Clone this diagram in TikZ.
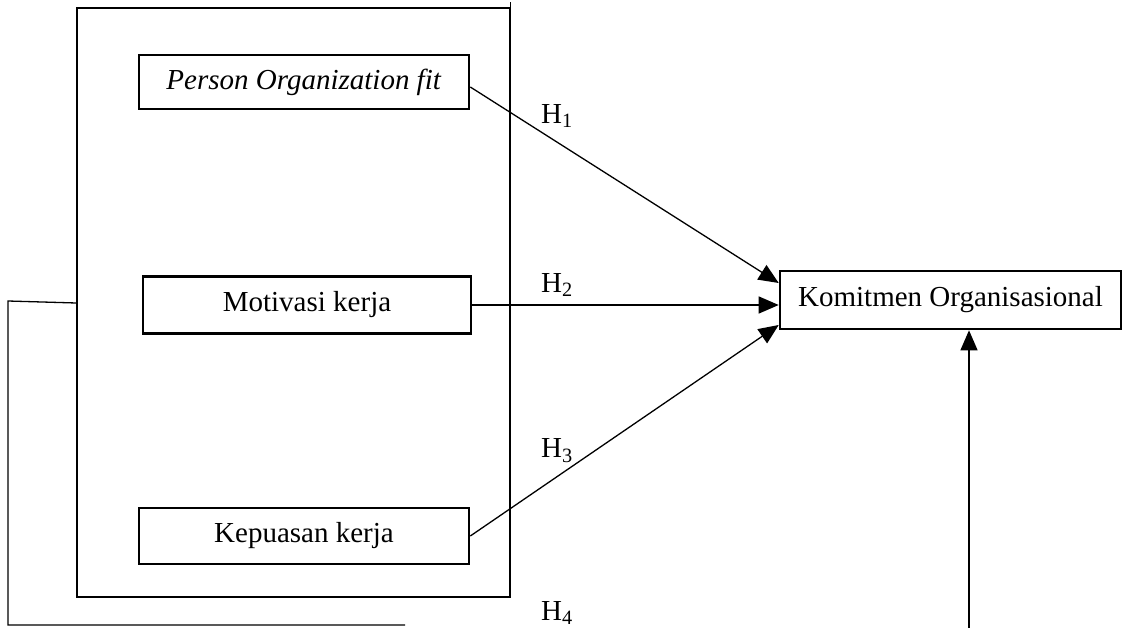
\documentclass[tikz,border=0pt]{standalone}
\usepackage{fontspec}
\setmainfont{Liberation Serif}
\usetikzlibrary{calc,arrows.meta}
\begin{document}
\begin{tikzpicture}[x=1pt,y=-1pt,
  varbox/.style={draw,line width=2.6pt,inner sep=0pt,align=center,font=\fontsize{29}{34}\selectfont},
  thinline/.style={line width=1.3pt},
  conn/.style={line width=1.3pt,-{Triangle[length=20pt,width=17pt]}},
  hlabel/.style={font=\fontsize{29}{34}\selectfont,inner sep=0pt}]
\useasboundingbox (0,0) rectangle (1131,628);
% group frame
\node[draw,thinline,minimum width=433pt,minimum height=589pt,inner sep=0pt] (grp) at (293.5,302.5) {};
\draw[thinline] (grp.north east) -- ++(0,-5);
% variable boxes
\node[varbox,minimum width=330pt,minimum height=54pt] (pof) at (304,82) {\textit{Person Organization fit}};
\node[varbox,minimum width=328pt,minimum height=57pt] (mot) at (307,305) {Motivasi kerja};
\node[varbox,minimum width=330pt,minimum height=56pt] (kep) at (304,536) {Kepuasan kerja};
\node[varbox,minimum width=341pt,minimum height=58pt] (kom) at (950.5,300) {Komitmen Organisasional};
% connectors
\draw[conn] ($(pof.east)+(0,5)$) -- ($(kom.west)+(0,-17)$);
\draw[conn] (mot.east) -- ($(kom.west)+(0,5)$);
\draw[conn] (kep.east) -- ($(kom.west)+(0,25)$);
% feedback path
\coordinate (fbL) at (8,301);
\coordinate (fbB) at (8,625);
\coordinate (fbE) at (405,625);
\coordinate (upS) at (969,628);
\draw[thinline] ($(grp.west)+(0,0.5)$) -- (fbL) -- (fbB) -- (fbE);
\draw[conn] (upS) -- (kom.south -| upS);
% labels
\node[hlabel] (h1) at (557,116) {H\textsubscript{1}};
\node[hlabel] (h2) at (557,285) {H\textsubscript{2}};
\node[hlabel] (h3) at (557,451) {H\textsubscript{3}};
\node[hlabel] (h4) at (557,613) {H\textsubscript{4}};
\end{tikzpicture}
\end{document}
